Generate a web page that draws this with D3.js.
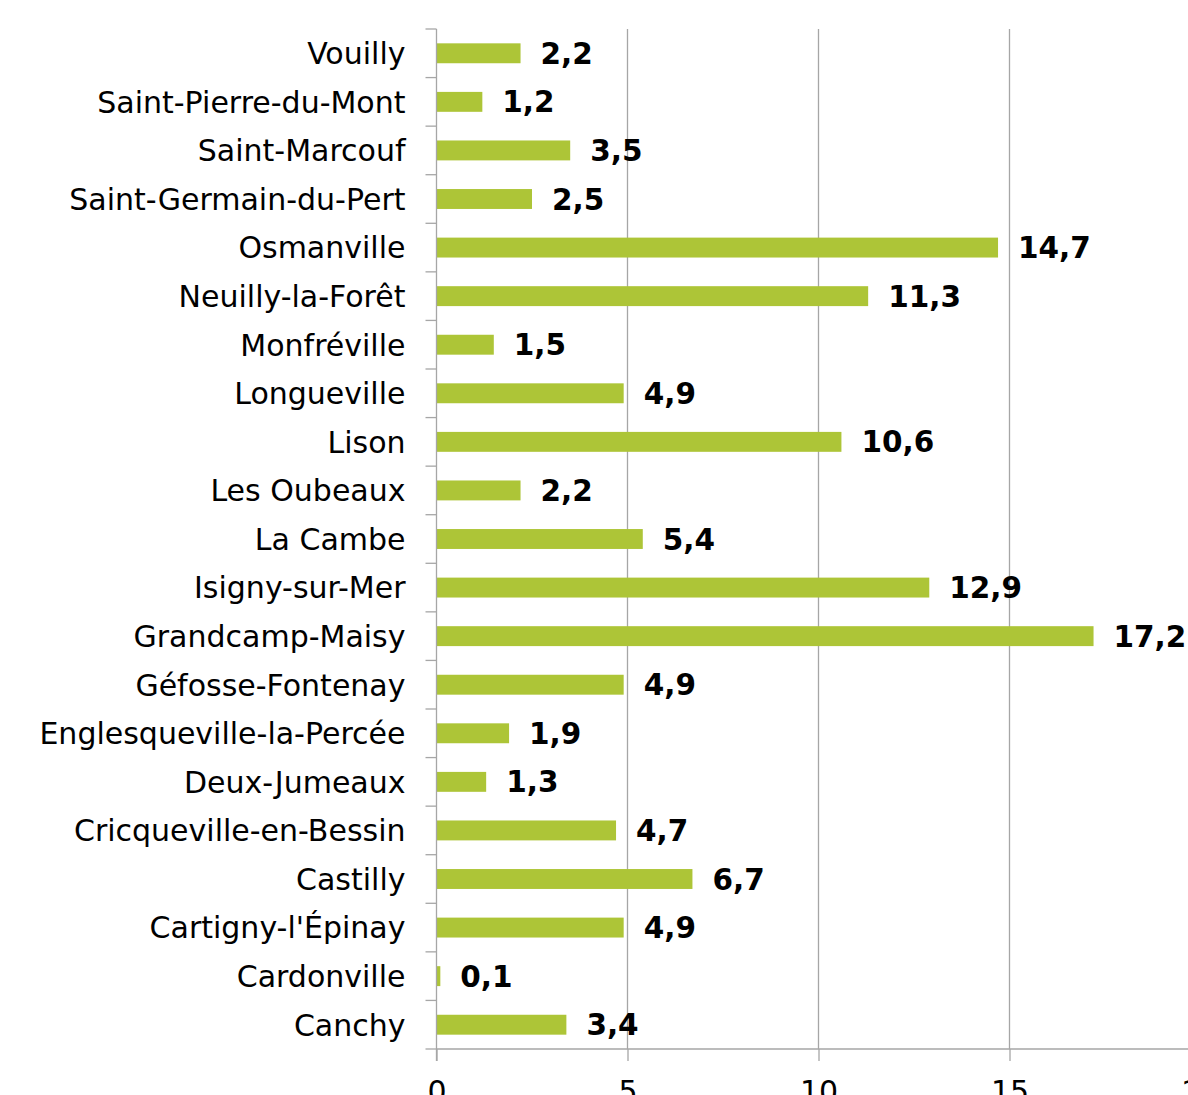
<!DOCTYPE html>
<html>
<head>
<meta charset="utf-8">
<script src="https://cdn.jsdelivr.net/npm/d3@7"></script>
<style>
  body { margin: 0; background: #fff; }
  svg { display: block; }
</style>
</head>
<body>
<div id="chart"></div>
<script>
'use strict';

const communes = [
    'Vouilly', 'Saint-Pierre-du-Mont', 'Saint-Marcouf', 'Saint-Germain-du-Pert',
    'Osmanville', 'Neuilly-la-Forêt', 'Monfréville', 'Longueville', 'Lison',
    'Les Oubeaux', 'La Cambe', 'Isigny-sur-Mer', 'Grandcamp-Maisy',
    'Géfosse-Fontenay', 'Englesqueville-la-Percée', 'Deux-Jumeaux',
    'Cricqueville-en-Bessin', 'Castilly', "Cartigny-l'Épinay", 'Cardonville', 'Canchy'
];
const values = [2.2, 1.2, 3.5, 2.5, 14.7, 11.3, 1.5, 4.9, 10.6, 2.2, 5.4, 12.9,
    17.2, 4.9, 1.9, 1.3, 4.7, 6.7, 4.9, 0.1, 3.4];
const xTicks = [0, 5, 10, 15, 20];

const width = 1188, height = 1095;
const margin = { top: 29, left: 436.5, bottom: 46 };
const font = '"DejaVu Sans", Tahoma, sans-serif';
const axisColor = '#a6a6a6';

const data = communes.map((c, i) => ({ commune: c, value: values[i] }));

const svg = d3.select('#chart')
    .append('svg')
    .attr('width', width)
    .attr('height', height);

const x = d3.scaleLinear().domain([0, 20]).range([margin.left, margin.left + 764]);
const y = d3.scaleBand()
    .domain(communes)
    .range([margin.top, height - margin.bottom])
    .paddingInner(0.59)
    .paddingOuter(0.295);

const plotBottom = height - margin.bottom;

// vertical gridlines
svg.append('g')
    .selectAll('line')
    .data(xTicks.filter(d => d > 0))
    .join('line')
    .attr('x1', d => x(d)).attr('x2', d => x(d))
    .attr('y1', margin.top).attr('y2', plotBottom)
    .attr('stroke', axisColor)
    .attr('stroke-width', 1.3);

// bars
svg.append('g')
    .selectAll('rect')
    .data(data)
    .join('rect')
    .attr('x', x(0))
    .attr('y', d => y(d.commune))
    .attr('width', d => x(d.value) - x(0))
    .attr('height', y.bandwidth())
    .attr('fill', '#adc537');

// value labels
svg.append('g')
    .selectAll('text')
    .data(data)
    .join('text')
    .attr('x', d => x(d.value) + 20)
    .attr('y', d => y(d.commune) + y.bandwidth() / 2)
    .attr('dy', '0.36em')
    .style('font-family', font)
    .style('font-size', '29.5px')
    .style('font-weight', 'bold')
    .style('fill', '#000')
    .text(d => d3.format('.1f')(d.value).replace('.', ','));

// x axis
const xAxis = svg.append('g')
    .attr('transform', `translate(0,${plotBottom})`)
    .call(d3.axisBottom(x).tickValues(xTicks).tickSize(12).tickPadding(20));
xAxis.select('.domain').remove();
xAxis.append('line')
    .attr('x1', x(0)).attr('x2', width)
    .attr('stroke', axisColor).attr('stroke-width', 1.3);
xAxis.selectAll('.tick line').attr('stroke', axisColor).attr('stroke-width', 1.3);
xAxis.selectAll('.tick text')
    .style('font-family', font)
    .style('font-size', '30px')
    .style('fill', '#000');

// y axis with ticks between categories
const yAxis = svg.append('g');
yAxis.append('line')
    .attr('x1', x(0)).attr('x2', x(0))
    .attr('y1', margin.top).attr('y2', plotBottom + 12)
    .attr('stroke', axisColor).attr('stroke-width', 1.3);
const step = y.step();
yAxis.selectAll('line.sep')
    .data(d3.range(communes.length + 1))
    .join('line')
    .attr('class', 'sep')
    .attr('x1', x(0) - 11).attr('x2', x(0))
    .attr('y1', i => margin.top + i * step)
    .attr('y2', i => margin.top + i * step)
    .attr('stroke', axisColor).attr('stroke-width', 1.3);
yAxis.selectAll('text')
    .data(communes)
    .join('text')
    .attr('x', x(0) - 31)
    .attr('y', d => y(d) + y.bandwidth() / 2)
    .attr('dy', '0.36em')
    .attr('text-anchor', 'end')
    .style('font-family', font)
    .style('font-size', '30px')
    .style('fill', '#000')
    .text(d => d);
</script>
</body>
</html>
